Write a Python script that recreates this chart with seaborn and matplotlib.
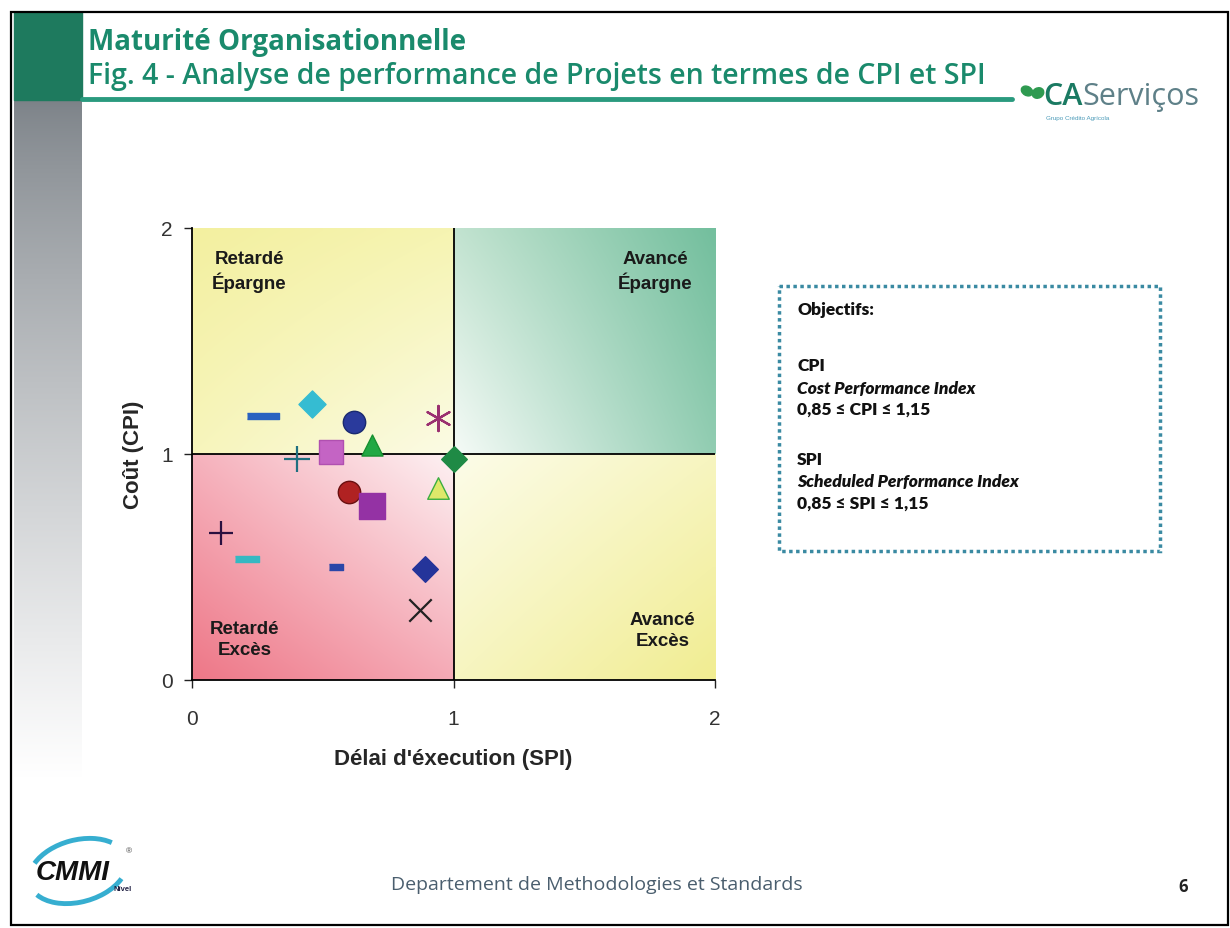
#!/usr/bin/env python

import matplotlib
matplotlib.use('Agg')
import matplotlib.pyplot as plt
from matplotlib.colors import to_rgb
from matplotlib.patches import Rectangle, Ellipse, Arc
import numpy as np
import pandas as pd
import seaborn as sns

# projets : SPI (delai) et CPI (cout)
spi = [0.27, 0.46, 0.62, 0.94, 0.53, 0.69, 0.40, 1.00,
       0.94, 0.60, 0.69, 0.11, 0.21, 0.55, 0.89, 0.87]
cpi = [1.17, 1.22, 1.14, 1.16, 1.01, 1.04, 0.98, 0.98,
       0.85, 0.83, 0.77, 0.65, 0.535, 0.50, 0.49, 0.31]
ticks = [0, 1, 2]
quadrants = ['Retardé\nÉpargne', 'Avancé\nÉpargne', 'Retardé\nExcès', 'Avancé\nExcès']

# styles des marqueurs (un par projet)
def dash(h):
    return [(-1, -h), (1, -h), (1, h), (-1, h)]

markers = [dash(0.16), 'D', 'o', (6, 2, 0), 's', '^', '+', 'D',
           '^', 'o', 's', '+', dash(0.25), dash(0.4), 'D', 'x']
colors = ['#2a62c0', '#35bcd2', '#2a3a9c', '#9a3070', '#c464c4', '#22a844', '#1f6f80', '#1f8a45',
          '#dfe86a', '#b02222', '#9432a4', '#2a1040', '#36b8c2', '#2a46a8', '#24349a', '#222222']
edges = [None, None, '#1a2a70', None, '#b050b0', '#189030', None, None,
         '#3cae40', '#6a1010', None, None, None, None, None, None]
sizes = [520, 190, 260, 330, 300, 230, 330, 170,
         240, 260, 330, 280, 300, 90, 170, 260]

df = pd.DataFrame({'spi': spi, 'cpi': cpi})

sns.set_theme(style='white')
plt.rcParams['font.family'] = ['Liberation Sans', 'DejaVu Sans']

W, H = 1230, 929
fig = plt.figure(figsize=(W / 100, H / 100), dpi=100)
fig.patch.set_facecolor('white')

# --- decor de la diapositive (coordonnees en pixels) ---
bg = fig.add_axes([0, 0, 1, 1])
bg.set_xlim(0, W)
bg.set_ylim(H, 0)
bg.axis('off')

grey = np.linspace(0, 1, 200) ** 0.8
bar = np.ones((200, 1, 3))
for i, c in enumerate(to_rgb('#7c8288')):
    bar[:, 0, i] = c + (1 - c) * grey
bg.imshow(bar, extent=[14, 82, 780, 100], aspect='auto', interpolation='bilinear', zorder=1)
bg.add_patch(Rectangle((14, 13), 68, 88, color='#1e7a5e', zorder=2))
bg.plot([82, 1012], [100, 100], color='#2a9a7e', lw=3.5, zorder=2)
bg.add_patch(Rectangle((11, 13), 1217, 913, fill=False, ec='black', lw=1.6, zorder=5))

title_font = ['Open Sans', 'DejaVu Sans']
bg.text(88, 42, 'Maturité Organisationnelle', family=title_font,
        fontsize=20, fontweight='bold', color='#1a8a6c', va='center', ha='left')
bg.text(88, 76, 'Fig. 4 - Analyse de performance de Projets en termes de CPI et SPI',
        family=title_font, fontsize=20.5, fontweight='semibold',
        color='#1a8a6c', va='center', ha='left')

# logo CA Servicos
bg.add_patch(Ellipse((1027, 92), 12, 9, angle=30, color='#2e9a50', zorder=3))
bg.add_patch(Ellipse((1038, 94), 12, 10, angle=-30, color='#2e9a50', zorder=3))
bg.text(1043, 97, 'CA', family=title_font, fontsize=22,
        fontweight='semibold', color='#1a7a62', va='center', ha='left')
bg.text(1082, 97, 'Serviços', family=title_font, fontsize=22,
        color='#5e8088', va='center', ha='left')
bg.text(1046, 118, 'Grupo Crédito Agrícola', fontsize=4.5, color='#4a9ab8', va='center')

# logo CMMI
bg.add_patch(Arc((78, 872), 100, 62, angle=-15, theta1=25, theta2=165, color='#36aed0', lw=3.5))
bg.add_patch(Arc((78, 872), 100, 62, angle=-15, theta1=205, theta2=335, color='#36aed0', lw=3.5))
bg.text(73, 873, 'CMMI', fontsize=20, fontweight='bold', style='italic',
        color='#111111', va='center', ha='center')
bg.text(126, 852, '®', fontsize=6, color='#444444', va='center')
bg.text(114, 890, 'Nível', fontsize=5.5, fontweight='bold', color='#222244', va='center')

bg.text(597, 885, 'Departement de Methodologies et Standards', family=title_font,
        fontsize=14, color='#4a5e6e', va='center', ha='center')
bg.text(1183, 887, '6', family=title_font, fontsize=12,
        fontweight='bold', color='#222222', va='center', ha='center')

# encadre des objectifs
bg.add_patch(Rectangle((779, 287), 381, 265, fill=False, ec='#3a8aa2', lw=2.5,
                       linestyle=(0, (1, 1)), zorder=3))
box_font = ['Lato', 'DejaVu Sans']
lines = [('Objectifs:', 310, 'normal'),
         ('CPI', 366, 'normal'),
         ('Cost Performance Index', 389, 'italic'),
         ('0,85 ≤ CPI ≤ 1,15', 410, 'normal'),
         ('SPI', 460, 'normal'),
         ('Scheduled Performance Index', 482, 'italic'),
         ('0,85 ≤ SPI ≤ 1,15', 504, 'normal')]
for txt, y, st in lines:
    bg.text(797, y, txt, family=box_font, fontsize=12.5, fontweight='heavy', style=st,
            color='#111111', va='center', ha='left')

# --- graphique CPI / SPI ---
ax = fig.add_axes([192 / W, 1 - 681 / H, 523 / W, 452 / H])


def gradient(ax, extent, bl, br, tl, tr, n=40):
    u = np.linspace(0, 1, n)[None, :, None]
    v = np.linspace(0, 1, n)[:, None, None]
    bl, br, tl, tr = [np.array(to_rgb(c))[None, None, :] for c in (bl, br, tl, tr)]
    img = (1 - v) * ((1 - u) * bl + u * br) + v * ((1 - u) * tl + u * tr)
    ax.imshow(img, extent=extent, origin='lower', aspect='auto',
              interpolation='bilinear', zorder=0)


gradient(ax, [0, 1, 1, 2], '#f7f5bc', '#fbfbe4', '#f3f0a0', '#f6f4b2')
gradient(ax, [1, 2, 1, 2], '#f4faf6', '#92cdb2', '#c2e3d0', '#74bf9e')
gradient(ax, [0, 1, 0, 1], '#ee7888', '#f5aab6', '#f6b2bd', '#fdf0f2')
gradient(ax, [1, 2, 0, 1], '#f7f5c0', '#f1ed92', '#fcfce8', '#f7f5c0')

for i in range(len(df)):
    filled = markers[i] not in ('+', 'x', (6, 2, 0))
    kw = dict(linewidth=1.6) if not filled else dict(edgecolor=edges[i] or colors[i], linewidth=1)
    sns.scatterplot(x=df.spi.iloc[i:i + 1], y=df.cpi.iloc[i:i + 1], marker=markers[i],
                    color=colors[i], s=sizes[i], ax=ax, zorder=4, legend=False, **kw)

ax.axvline(1, color='black', lw=1.3, zorder=3)
ax.axhline(1, color='black', lw=1.3, zorder=3)

ax.set_xlim(0, 2)
ax.set_ylim(0, 2)
ax.set_xticks(ticks)
ax.set_yticks(ticks)
ax.tick_params(axis='both', which='both', direction='out', length=6, width=1,
               color='#222222', labelsize=15, labelcolor='#333333', left=True, bottom=True)
ax.tick_params(axis='x', pad=15)
ax.tick_params(axis='y', pad=8)
for side in ['top', 'right']:
    ax.spines[side].set_visible(False)
for side in ['left', 'bottom']:
    ax.spines[side].set_color('black')
    ax.spines[side].set_linewidth(1.3)

ax.set_xlabel("Délai d'éxecution (SPI)", fontsize=16, fontweight='bold', labelpad=14)
ax.set_ylabel('Coût (CPI)', fontsize=16, fontweight='bold', labelpad=12)

qpos = [(0.22, 1.81), (1.77, 1.81), (0.20, 0.18), (1.8, 0.22)]
for label, (x, y) in zip(quadrants, qpos):
    ax.text(x, y, label, fontsize=13.5, fontweight='bold', color='#1a1a1a',
            ha='center', va='center', linespacing=1.3, zorder=5)

fig.savefig('out.png', dpi=100)
